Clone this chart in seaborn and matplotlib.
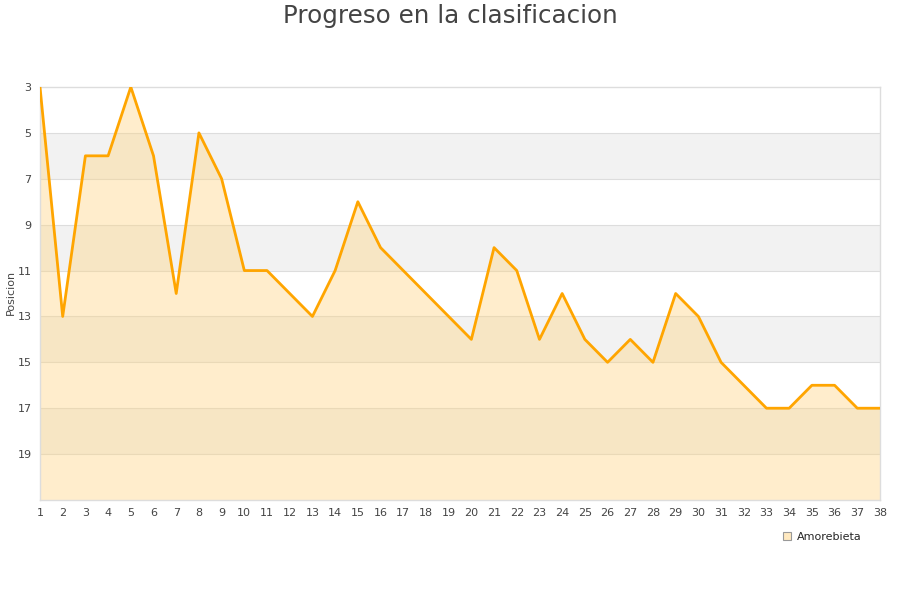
import numpy as np
import pandas as pd
import matplotlib
matplotlib.use('Agg')
import matplotlib.pyplot as plt
import seaborn as sns

jornadas = list(range(1, 39))
posiciones = [3, 13, 6, 6, 3, 6, 12, 5, 7, 11, 11, 12, 13, 11, 8, 10, 11, 12, 13, 14,
              10, 11, 14, 12, 14, 15, 14, 15, 12, 13, 15, 16, 17, 17, 16, 16, 17, 17]
equipo = 'Amorebieta'
y_ticks = [3, 5, 7, 9, 11, 13, 15, 17, 19]

df = pd.DataFrame({'jornada': jornadas, 'posicion': posiciones})

sns.set_style('white')
plt.rcParams['font.family'] = ['DejaVu Sans']

fig = plt.figure(figsize=(9, 6), dpi=100)
ax = fig.add_axes([40 / 900, 1 - 500 / 600, 840 / 900, 413 / 600])

# bandas alternas
for i, lo in enumerate(range(3, 21, 2)):
    if i % 2 == 1:
        ax.axhspan(lo, lo + 2, color='#f2f2f2', zorder=0, lw=0)
for t in y_ticks[1:]:
    ax.axhline(t, color='#dddddd', lw=0.8, zorder=1)

ax.fill_between(df['jornada'], df['posicion'], 21, color='#ffd480', alpha=0.4, lw=0, zorder=2)
sns.lineplot(data=df, x='jornada', y='posicion', color='#ffa500', lw=2, ax=ax, zorder=3)

ax.set_xlim(1, 38)
ax.set_ylim(21, 3)
ax.set_xticks(jornadas)
ax.set_xticklabels([str(j) for j in jornadas], fontsize=8, color='#444444')
ax.set_yticks(y_ticks)
ax.set_yticklabels([str(t) for t in y_ticks], fontsize=8, color='#444444')
ax.tick_params(axis='both', length=0, pad=6)
ax.set_xlabel('')
ax.set_ylabel('')
for s in ax.spines.values():
    s.set_color('#dddddd')
    s.set_linewidth(1)

fig.text(11 / 900, 1 - 292 / 600, 'Posicion', rotation=90, fontsize=8, color='#444444',
         ha='center', va='center')
fig.text(0.5, 1 - 16 / 600, 'Progreso en la clasificacion', fontsize=17.7, color='#444444',
         ha='center', va='center')

handle = plt.Line2D([], [], marker='s', ls='', markersize=6, markerfacecolor='#ffe9c0',
                    markeredgecolor='#999999', markeredgewidth=0.8)
fig.legend([handle], [equipo], loc='center', bbox_to_anchor=(822 / 900, 1 - 537 / 600),
           frameon=False, fontsize=8, handletextpad=0.4, handlelength=1)

fig.savefig('out.png', dpi=100)
